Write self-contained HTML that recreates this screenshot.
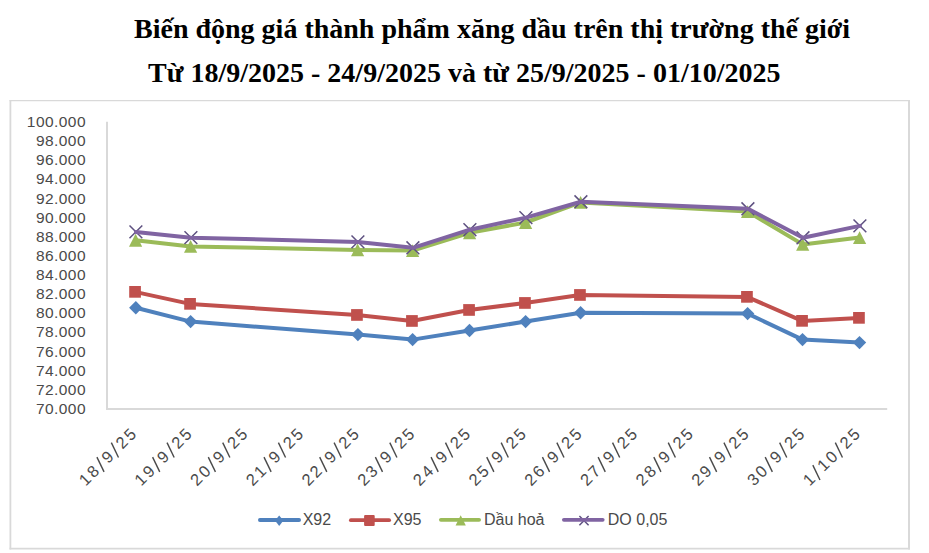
<!DOCTYPE html>
<html><head><meta charset="utf-8"><style>
html,body{margin:0;padding:0;background:#fff;width:929px;height:553px;overflow:hidden}
svg{display:block}
.t{font-family:"Liberation Serif",serif;font-weight:bold;font-size:28px;fill:#000}
.yl{font-family:"Liberation Sans",sans-serif;font-size:15.5px;fill:#4a4a4a;letter-spacing:0.45px}
.xl text{font-family:"Liberation Sans",sans-serif;font-size:16.5px;fill:#4a4a4a;text-anchor:middle} .xl path{stroke:#4a4a4a;stroke-width:1.4;fill:none}
.lg{font-family:"Liberation Sans",sans-serif;font-size:16px;fill:#4a4a4a;letter-spacing:0px}
</style></head><body>
<svg width="929" height="553" viewBox="0 0 929 553">
<text x="134" y="37.7" class="t">Biến động giá thành phẩm xăng dầu trên thị trường thế giới</text>
<text x="148" y="82" class="t">Từ 18/9/2025 - 24/9/2025 và từ 25/9/2025 - 01/10/2025</text>
<path d="M9.5 100.6H910" stroke="#d9d9d9" stroke-width="1.3"/><path d="M10.4 100V549.6" stroke="#d9d9d9" stroke-width="1.8"/><path d="M9.5 548.7H910" stroke="#d9d9d9" stroke-width="1.8"/><path d="M909 100V549.6" stroke="#d9d9d9" stroke-width="2"/>
<path d="M107 121.8V410M106 409H887.2" stroke="#d9d9d9" stroke-width="2" fill="none"/>
<text x="86" y="127.0" text-anchor="end" class="yl">100.000</text>
<text x="86" y="146.2" text-anchor="end" class="yl">98.000</text>
<text x="86" y="165.3" text-anchor="end" class="yl">96.000</text>
<text x="86" y="184.4" text-anchor="end" class="yl">94.000</text>
<text x="86" y="203.5" text-anchor="end" class="yl">92.000</text>
<text x="86" y="222.6" text-anchor="end" class="yl">90.000</text>
<text x="86" y="241.8" text-anchor="end" class="yl">88.000</text>
<text x="86" y="260.9" text-anchor="end" class="yl">86.000</text>
<text x="86" y="280.0" text-anchor="end" class="yl">84.000</text>
<text x="86" y="299.1" text-anchor="end" class="yl">82.000</text>
<text x="86" y="318.2" text-anchor="end" class="yl">80.000</text>
<text x="86" y="337.3" text-anchor="end" class="yl">78.000</text>
<text x="86" y="356.5" text-anchor="end" class="yl">76.000</text>
<text x="86" y="375.6" text-anchor="end" class="yl">74.000</text>
<text x="86" y="394.7" text-anchor="end" class="yl">72.000</text>
<text x="86" y="413.8" text-anchor="end" class="yl">70.000</text>
<g transform="translate(133.90,438.5) rotate(-45)" class="xl"><text x="-63.60" y="0">1</text><text x="-52.20" y="0">8</text><path d="M-44.70 2.5L-39.30 -13"/><text x="-31.80" y="0">9</text><path d="M-24.30 2.5L-18.90 -13"/><text x="-11.40" y="0">2</text><text x="0.00" y="0">5</text></g>
<g transform="translate(189.59,438.5) rotate(-45)" class="xl"><text x="-63.60" y="0">1</text><text x="-52.20" y="0">9</text><path d="M-44.70 2.5L-39.30 -13"/><text x="-31.80" y="0">9</text><path d="M-24.30 2.5L-18.90 -13"/><text x="-11.40" y="0">2</text><text x="0.00" y="0">5</text></g>
<g transform="translate(245.28,438.5) rotate(-45)" class="xl"><text x="-63.60" y="0">2</text><text x="-52.20" y="0">0</text><path d="M-44.70 2.5L-39.30 -13"/><text x="-31.80" y="0">9</text><path d="M-24.30 2.5L-18.90 -13"/><text x="-11.40" y="0">2</text><text x="0.00" y="0">5</text></g>
<g transform="translate(300.97,438.5) rotate(-45)" class="xl"><text x="-63.60" y="0">2</text><text x="-52.20" y="0">1</text><path d="M-44.70 2.5L-39.30 -13"/><text x="-31.80" y="0">9</text><path d="M-24.30 2.5L-18.90 -13"/><text x="-11.40" y="0">2</text><text x="0.00" y="0">5</text></g>
<g transform="translate(356.66,438.5) rotate(-45)" class="xl"><text x="-63.60" y="0">2</text><text x="-52.20" y="0">2</text><path d="M-44.70 2.5L-39.30 -13"/><text x="-31.80" y="0">9</text><path d="M-24.30 2.5L-18.90 -13"/><text x="-11.40" y="0">2</text><text x="0.00" y="0">5</text></g>
<g transform="translate(412.35,438.5) rotate(-45)" class="xl"><text x="-63.60" y="0">2</text><text x="-52.20" y="0">3</text><path d="M-44.70 2.5L-39.30 -13"/><text x="-31.80" y="0">9</text><path d="M-24.30 2.5L-18.90 -13"/><text x="-11.40" y="0">2</text><text x="0.00" y="0">5</text></g>
<g transform="translate(468.04,438.5) rotate(-45)" class="xl"><text x="-63.60" y="0">2</text><text x="-52.20" y="0">4</text><path d="M-44.70 2.5L-39.30 -13"/><text x="-31.80" y="0">9</text><path d="M-24.30 2.5L-18.90 -13"/><text x="-11.40" y="0">2</text><text x="0.00" y="0">5</text></g>
<g transform="translate(523.73,438.5) rotate(-45)" class="xl"><text x="-63.60" y="0">2</text><text x="-52.20" y="0">5</text><path d="M-44.70 2.5L-39.30 -13"/><text x="-31.80" y="0">9</text><path d="M-24.30 2.5L-18.90 -13"/><text x="-11.40" y="0">2</text><text x="0.00" y="0">5</text></g>
<g transform="translate(579.42,438.5) rotate(-45)" class="xl"><text x="-63.60" y="0">2</text><text x="-52.20" y="0">6</text><path d="M-44.70 2.5L-39.30 -13"/><text x="-31.80" y="0">9</text><path d="M-24.30 2.5L-18.90 -13"/><text x="-11.40" y="0">2</text><text x="0.00" y="0">5</text></g>
<g transform="translate(635.11,438.5) rotate(-45)" class="xl"><text x="-63.60" y="0">2</text><text x="-52.20" y="0">7</text><path d="M-44.70 2.5L-39.30 -13"/><text x="-31.80" y="0">9</text><path d="M-24.30 2.5L-18.90 -13"/><text x="-11.40" y="0">2</text><text x="0.00" y="0">5</text></g>
<g transform="translate(690.80,438.5) rotate(-45)" class="xl"><text x="-63.60" y="0">2</text><text x="-52.20" y="0">8</text><path d="M-44.70 2.5L-39.30 -13"/><text x="-31.80" y="0">9</text><path d="M-24.30 2.5L-18.90 -13"/><text x="-11.40" y="0">2</text><text x="0.00" y="0">5</text></g>
<g transform="translate(746.49,438.5) rotate(-45)" class="xl"><text x="-63.60" y="0">2</text><text x="-52.20" y="0">9</text><path d="M-44.70 2.5L-39.30 -13"/><text x="-31.80" y="0">9</text><path d="M-24.30 2.5L-18.90 -13"/><text x="-11.40" y="0">2</text><text x="0.00" y="0">5</text></g>
<g transform="translate(802.18,438.5) rotate(-45)" class="xl"><text x="-63.60" y="0">3</text><text x="-52.20" y="0">0</text><path d="M-44.70 2.5L-39.30 -13"/><text x="-31.80" y="0">9</text><path d="M-24.30 2.5L-18.90 -13"/><text x="-11.40" y="0">2</text><text x="0.00" y="0">5</text></g>
<g transform="translate(857.87,438.5) rotate(-45)" class="xl"><text x="-63.60" y="0">1</text><path d="M-56.10 2.5L-50.70 -13"/><text x="-43.20" y="0">1</text><text x="-31.80" y="0">0</text><path d="M-24.30 2.5L-18.90 -13"/><text x="-11.40" y="0">2</text><text x="0.00" y="0">5</text></g>
<path d="M135.8 301.1L142.5 307.8L135.8 314.4L129.1 307.8Z" fill="#4F81BD"/>
<path d="M190.6 314.9L197.3 321.6L190.6 328.3L183.9 321.6Z" fill="#4F81BD"/>
<path d="M357.9 327.9L364.6 334.6L357.9 341.3L351.2 334.6Z" fill="#4F81BD"/>
<path d="M412.6 332.9L419.3 339.6L412.6 346.3L405.9 339.6Z" fill="#4F81BD"/>
<path d="M469.5 323.8L476.2 330.5L469.5 337.2L462.8 330.5Z" fill="#4F81BD"/>
<path d="M525.6 314.9L532.3 321.6L525.6 328.3L518.9 321.6Z" fill="#4F81BD"/>
<path d="M580.6 306.1L587.3 312.8L580.6 319.4L573.9 312.8Z" fill="#4F81BD"/>
<path d="M747.6 306.9L754.3 313.6L747.6 320.3L740.9 313.6Z" fill="#4F81BD"/>
<path d="M802.5 332.9L809.2 339.6L802.5 346.3L795.8 339.6Z" fill="#4F81BD"/>
<path d="M859.5 335.9L866.2 342.6L859.5 349.3L852.8 342.6Z" fill="#4F81BD"/>
<polyline points="135.80,307.75 190.60,321.60 357.90,334.60 412.60,339.60 469.50,330.50 525.60,321.60 580.60,312.75 747.60,313.60 802.50,339.60 859.50,342.60" fill="none" stroke="#4F81BD" stroke-width="4.0" stroke-linejoin="round" stroke-linecap="round"/>
<rect x="129.2" y="286.0" width="11.7" height="11.7" fill="#C0504D"/>
<rect x="184.2" y="298.0" width="11.7" height="11.7" fill="#C0504D"/>
<rect x="351.1" y="309.1" width="11.7" height="11.7" fill="#C0504D"/>
<rect x="406.1" y="315.1" width="11.7" height="11.7" fill="#C0504D"/>
<rect x="463.2" y="304.1" width="11.7" height="11.7" fill="#C0504D"/>
<rect x="519.1" y="297.1" width="11.7" height="11.7" fill="#C0504D"/>
<rect x="574.1" y="289.1" width="11.7" height="11.7" fill="#C0504D"/>
<rect x="741.1" y="291.0" width="11.7" height="11.7" fill="#C0504D"/>
<rect x="796.2" y="315.0" width="11.7" height="11.7" fill="#C0504D"/>
<rect x="853.1" y="312.0" width="11.7" height="11.7" fill="#C0504D"/>
<polyline points="135.00,291.90 190.00,303.90 357.00,315.00 412.00,321.00 469.10,310.00 525.00,303.00 580.00,295.00 747.00,296.90 802.10,320.90 859.00,317.90" fill="none" stroke="#C0504D" stroke-width="4.0" stroke-linejoin="round" stroke-linecap="round"/>
<path d="M135.6 233.8L142.2 246.7L129.0 246.7Z" fill="#9BBB59"/>
<path d="M190.6 240.0L197.2 252.8L184.0 252.8Z" fill="#9BBB59"/>
<path d="M357.6 243.5L364.2 256.3L351.0 256.3Z" fill="#9BBB59"/>
<path d="M412.6 244.2L419.2 257.0L406.0 257.0Z" fill="#9BBB59"/>
<path d="M469.6 226.5L476.2 239.3L463.0 239.3Z" fill="#9BBB59"/>
<path d="M525.6 216.1L532.2 228.9L519.0 228.9Z" fill="#9BBB59"/>
<path d="M580.6 196.0L587.2 208.8L574.0 208.8Z" fill="#9BBB59"/>
<path d="M747.6 205.2L754.2 218.0L741.0 218.0Z" fill="#9BBB59"/>
<path d="M802.7 238.0L809.3 250.8L796.1 250.8Z" fill="#9BBB59"/>
<path d="M859.6 231.2L866.2 244.0L853.0 244.0Z" fill="#9BBB59"/>
<polyline points="135.60,240.25 190.60,246.40 357.60,249.90 412.60,250.60 469.60,232.90 525.60,222.50 580.60,202.40 747.60,211.60 802.70,244.40 859.60,237.60" fill="none" stroke="#9BBB59" stroke-width="4.0" stroke-linejoin="round" stroke-linecap="round"/>
<path d="M129.50 225.50L142.30 238.30M142.30 225.50L129.50 238.30" stroke="#5E5180" stroke-width="1.5" fill="none"/>
<path d="M184.50 231.25L197.30 244.05M197.30 231.25L184.50 244.05" stroke="#5E5180" stroke-width="1.5" fill="none"/>
<path d="M351.50 235.50L364.30 248.30M364.30 235.50L351.50 248.30" stroke="#5E5180" stroke-width="1.5" fill="none"/>
<path d="M406.50 241.40L419.30 254.20M419.30 241.40L406.50 254.20" stroke="#5E5180" stroke-width="1.5" fill="none"/>
<path d="M463.50 223.30L476.30 236.10M476.30 223.30L463.50 236.10" stroke="#5E5180" stroke-width="1.5" fill="none"/>
<path d="M519.50 211.25L532.30 224.05M532.30 211.25L519.50 224.05" stroke="#5E5180" stroke-width="1.5" fill="none"/>
<path d="M574.50 195.35L587.30 208.15M587.30 195.35L574.50 208.15" stroke="#5E5180" stroke-width="1.5" fill="none"/>
<path d="M741.50 202.40L754.30 215.20M754.30 202.40L741.50 215.20" stroke="#5E5180" stroke-width="1.5" fill="none"/>
<path d="M796.60 231.40L809.40 244.20M809.40 231.40L796.60 244.20" stroke="#5E5180" stroke-width="1.5" fill="none"/>
<path d="M853.50 219.50L866.30 232.30M866.30 219.50L853.50 232.30" stroke="#5E5180" stroke-width="1.5" fill="none"/>
<polyline points="135.90,231.90 190.90,237.65 357.90,241.90 412.90,247.80 469.90,229.70 525.90,217.65 580.90,201.75 747.90,208.80 803.00,237.80 859.90,225.90" fill="none" stroke="#8064A2" stroke-width="4.0" stroke-linejoin="round" stroke-linecap="round"/>
<path d="M259.9 520H299.1" stroke="#4F81BD" stroke-width="3.8" stroke-linecap="round"/>
<path d="M279.2 515.4L283.4 520.6L279.2 525.9L275 520.6Z" fill="#4F81BD"/>
<path d="M350.9 520.2H389.1" stroke="#C0504D" stroke-width="3.8" stroke-linecap="round"/>
<rect x="364.1" y="515.1" width="10.6" height="10.8" rx="1" fill="#C0504D"/>
<path d="M440.9 519.8H479.1" stroke="#9BBB59" stroke-width="3.8" stroke-linecap="round"/>
<path d="M460.7 515.3L465.8 525.6L455.6 525.6Z" fill="#9BBB59"/>
<path d="M579.40 516.00L588.60 525.20M588.60 516.00L579.40 525.20" stroke="#5E5180" stroke-width="1.5" fill="none"/>
<path d="M563.9 519.8H602.7" stroke="#8064A2" stroke-width="3.8" stroke-linecap="round"/>
<text x="302.7" y="525.3" class="lg">X92</text>
<text x="393" y="525.3" class="lg">X95</text>
<text x="484" y="525.3" class="lg">Dầu hoả</text>
<text x="607.8" y="525.3" class="lg">DO 0,05</text>
</svg>
</body></html>
